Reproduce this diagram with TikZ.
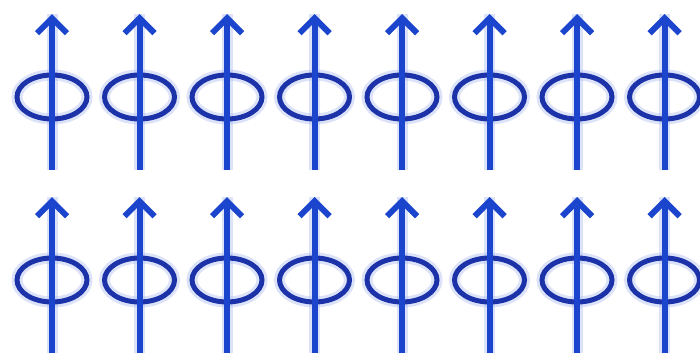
\documentclass[tikz,border=0pt]{standalone}
\usepackage{tikz}
\usetikzlibrary{arrows.meta}
\definecolor{spinblue}{HTML}{1A45CC}
\definecolor{loopblue}{HTML}{1C32A8}
\definecolor{haloblue}{HTML}{9DB0F0}
\tikzset{
  spinshaft/.style={draw=spinblue,line width=6pt,
                    -{Straight Barb[length=15pt,width=30pt,line width=6pt]}},
  spinloop/.style={draw=loopblue,line width=5pt},
  halo/.style={draw=haloblue,line width=11pt,opacity=0.35},
}
\begin{document}
\begin{tikzpicture}[x=1pt,y=-1pt]
  \useasboundingbox[fill=white](0,0)rectangle(700,362);
  \clip(0,0)rectangle(700,362);
  \foreach \r/\yy in {0/0,1/183}{
    \foreach \c in {0,...,7}{
      \coordinate (b\r\c) at (52+87.5*\c,170+\yy);
      \coordinate (t\r\c) at (52+87.5*\c,14+\yy);
      \coordinate (m\r\c) at (52+87.5*\c,97+\yy);
      % soft glow first
      \draw[halo](b\r\c)--(t\r\c);
      \draw[halo](m\r\c) ellipse[x radius=35,y radius=22];
      % spin and its loop
      \draw[spinloop](m\r\c) ellipse[x radius=35,y radius=22];
      \draw[spinshaft](b\r\c)--(t\r\c);
    }
  }
\end{tikzpicture}
\end{document}
